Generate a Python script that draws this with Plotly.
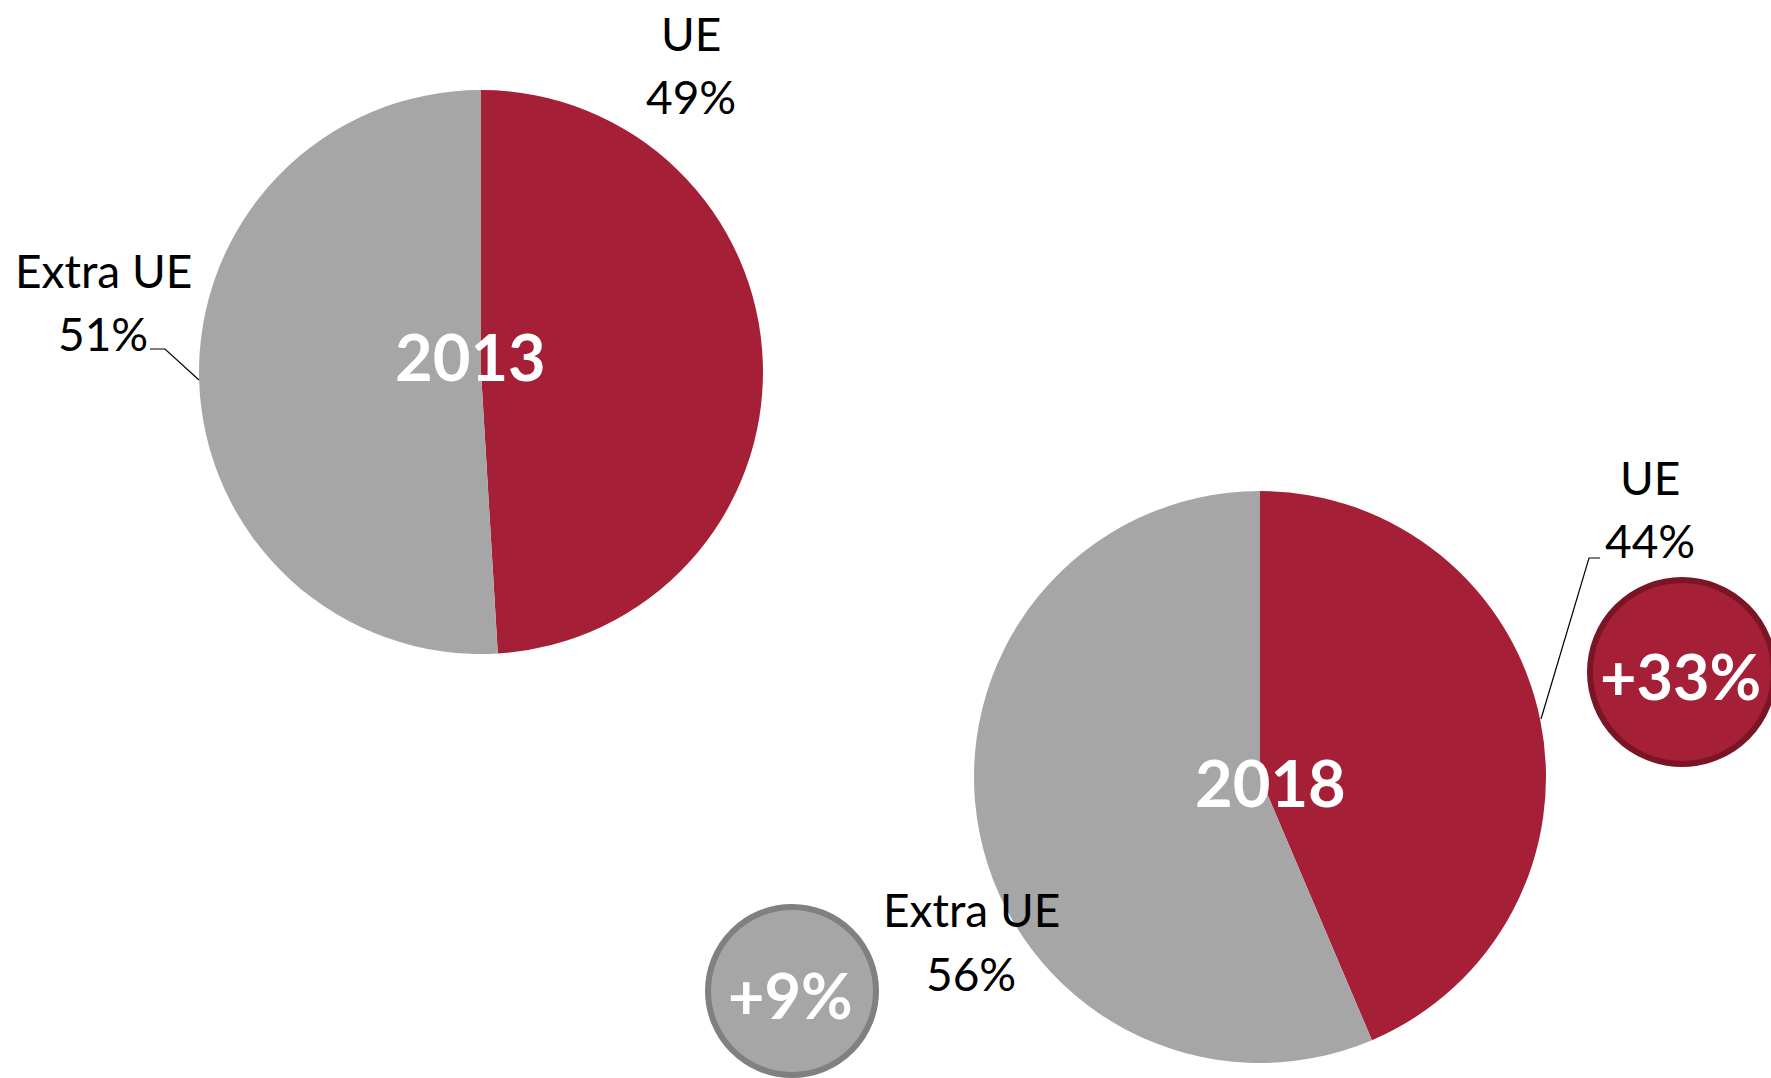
import plotly.graph_objects as go

W, H = 1771, 1078

# ---- data ----
labels = ["UE", "Extra UE"]
shares_2013 = [49.05, 50.95]
shares_2018 = [43.6, 56.4]
years = ["2013", "2018"]
growth = ["+33%", "+9%"]  # UE growth, Extra UE growth

RED = "#A52037"
GRAY = "#A6A6A6"
RED_DARK = "#7A1526"
GRAY_DARK = "#808080"
FONT = "Lato"


def px(x):
    return x / W


def py(y):
    return 1 - y / H


def pie_domain(cx, cy, r):
    return dict(x=[px(cx - r), px(cx + r)], y=[py(cy + r), py(cy - r)])


fig = go.Figure()

pies = [
    (shares_2013, (481, 372, 282)),
    (shares_2018, (1260, 777, 286)),
]
for vals, (cx, cy, r) in pies:
    fig.add_trace(go.Pie(
        labels=labels, values=vals, sort=False, direction="clockwise", rotation=0,
        marker=dict(colors=[RED, GRAY], line=dict(width=0)),
        textinfo="none", hoverinfo="label+percent", showlegend=False,
        domain=pie_domain(cx, cy, r),
    ))

annotations = []
# year labels
for yr, (x, y) in zip(years, [(470, 356), (1270, 782)]):
    annotations.append(dict(x=px(x), y=py(y), xref="paper", yref="paper", text=f"<b>{yr}</b>",
                            showarrow=False, font=dict(family=FONT, size=65, color="white"),
                            xanchor="center", yanchor="middle"))

# slice labels (name line, percentage line)
label_pos = [
    (labels[0], shares_2013[0], 691, 34, 96),
    (labels[1], shares_2013[1], 103, 270, 333),
    (labels[0], shares_2018[0], 1650, 477, 540),
    (labels[1], shares_2018[1], 971, 909, 973),
]
for lab, v, x, y1, y2 in label_pos:
    for txt, y in [(lab, y1), (f"{round(v)}%", y2)]:
        annotations.append(dict(x=px(x), y=py(y), xref="paper", yref="paper", text=txt,
                                showarrow=False, font=dict(family=FONT, size=46, color="black"),
                                xanchor="center", yanchor="middle", align="center"))

shapes = []
# leader lines
for pts in [[(150, 349), (165, 349), (199, 380)], [(1600, 558), (1589, 558), (1541, 719)]]:
    path = "M " + " L ".join(f"{px(a)},{py(b)}" for a, b in pts)
    shapes.append(dict(type="path", path=path, xref="paper", yref="paper",
                       line=dict(color="black", width=1.2)))

# growth bubbles
bubbles = [
    (growth[0], 1682, 672, 92, RED, RED_DARK, 63),
    (growth[1], 792, 991, 84, GRAY, GRAY_DARK, 63),
]
for txt, cx, cy, r, fc, lc, fs in bubbles:
    shapes.append(dict(type="circle", xref="paper", yref="paper",
                       x0=px(cx - r), x1=px(cx + r), y0=py(cy + r), y1=py(cy - r),
                       fillcolor=fc, line=dict(color=lc, width=6), layer="above"))
    annotations.append(dict(x=px(cx - 2), y=py(cy + 3), xref="paper", yref="paper", text=f"<b>{txt}</b>",
                            showarrow=False, font=dict(family=FONT, size=fs, color="white"),
                            xanchor="center", yanchor="middle"))

fig.update_layout(
    width=W, height=H,
    margin=dict(l=0, r=0, t=0, b=0),
    paper_bgcolor="white", plot_bgcolor="white",
    annotations=annotations, shapes=shapes,
    font=dict(family=FONT),
)

fig.write_html(
    "out.html",
    config={"displayModeBar": False},
    post_script="document.body.style.margin='0';document.body.style.overflow='hidden';",
)
